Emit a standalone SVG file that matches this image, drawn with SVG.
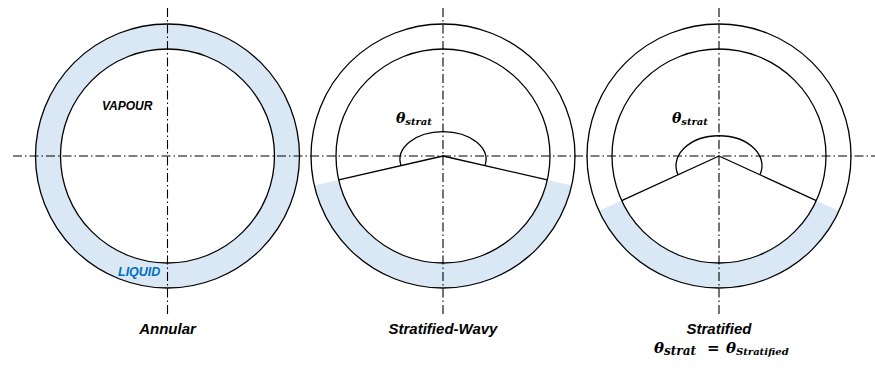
<svg xmlns="http://www.w3.org/2000/svg" width="875" height="370" viewBox="0 0 875 370">
<style>
.bg{fill:#ffffff}
.ring{fill:none;stroke:#000;stroke-width:1.3}
.liq{fill:#dae8f6;stroke:none}
.line{fill:none;stroke:#000;stroke-width:1.3;stroke-linejoin:round}
.axis{fill:none;stroke:#000;stroke-width:1.1;stroke-dasharray:9 3 1.5 3}
.title{font-family:"Liberation Sans",Arial,sans-serif;font-weight:bold;font-style:italic;font-size:15px;text-anchor:middle;fill:#000}
.lab{font-family:"Liberation Sans",Arial,sans-serif;font-weight:bold;font-style:italic;fill:#000}
.math{font-family:"DejaVu Serif",serif;font-weight:bold;font-style:italic;fill:#000}
</style>
<rect class="bg" x="0" y="0" width="875" height="370"/>

<g id="annular">
  <circle cx="167.5" cy="156" r="132" fill="#dae8f6" stroke="#000" stroke-width="1.3"/>
  <circle cx="167.5" cy="156" r="107" fill="#ffffff" stroke="#000" stroke-width="1.3"/>
  <text class="lab" x="102" y="110" font-size="12">VAPOUR</text>
  <text class="lab" x="118" y="276" font-size="12.5" style="fill:#0070c0">LIQUID</text>
  <text class="title" x="167.5" y="334">Annular</text>
</g>

<g id="stratified-wavy">
  <path class="liq" d="M314.33,185.47 A132,132 0 0 0 571.67,185.47 L547.30,179.89 A107,107 0 0 1 338.70,179.89 Z"/>
  <circle class="ring" cx="443" cy="156" r="132"/>
  <circle class="ring" cx="443" cy="156" r="107"/>
  <path class="line" d="M338.70,179.89 L443,156 L547.30,179.89"/>
  <path class="line" d="M401,165.6 A43,28 0 1 1 485,165.6"/>
  <text class="math" x="396" y="123"><tspan font-size="14">θ</tspan><tspan font-size="10" dy="2">strat</tspan></text>
  <text class="title" x="443" y="334">Stratified-Wavy</text>
</g>

<g id="stratified">
  <path class="liq" d="M598.99,210.95 A132,132 0 0 0 839.01,210.95 L816.28,200.54 A107,107 0 0 1 621.72,200.54 Z"/>
  <circle class="ring" cx="719" cy="156" r="132"/>
  <circle class="ring" cx="719" cy="156" r="107"/>
  <path class="line" d="M621.72,200.54 L719,156 L816.28,200.54"/>
  <path class="line" d="M678,174.8 A43,30 0 1 1 760,174.8"/>
  <text class="math" x="672" y="123"><tspan font-size="14">θ</tspan><tspan font-size="10" dy="2">strat</tspan></text>
  <text class="title" x="719" y="334">Stratified</text>
  <text class="math" x="654" y="353"><tspan font-size="15">θ</tspan><tspan font-size="12" dy="2">strat</tspan><tspan font-size="15" dy="-2" x="707">=</tspan><tspan font-size="15" x="726">θ</tspan><tspan font-size="10" dy="2">Stratified</tspan></text>
</g>

<g id="connectors">
  <line class="axis" x1="13" y1="156" x2="875" y2="156"/>
  <line class="axis" x1="167.5" y1="8" x2="167.5" y2="316"/>
  <line class="axis" x1="443" y1="8" x2="443" y2="316"/>
  <line class="axis" x1="719" y1="8" x2="719" y2="316"/>
</g>
</svg>
